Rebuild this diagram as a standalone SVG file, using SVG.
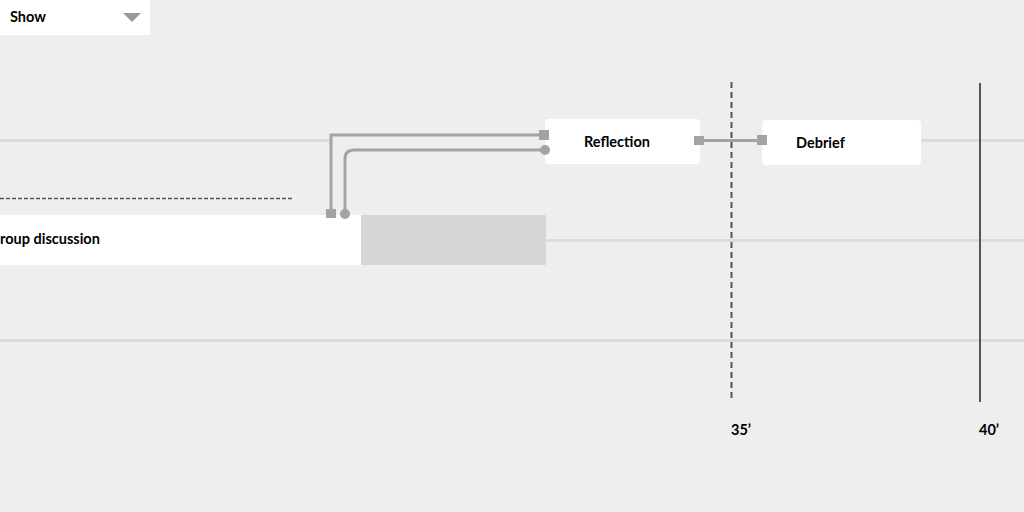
<svg xmlns="http://www.w3.org/2000/svg" width="1024" height="512" viewBox="0 0 1024 512">
<style>
.lbl{font-family:Lato,"Liberation Sans",sans-serif;font-weight:700;font-size:14.5px;fill:#000}
.row{stroke:#dcdcdc;stroke-width:3}
.con{stroke:#a3a3a3;stroke-width:3;fill:none}
.end{fill:#a3a3a3}
</style>
<rect width="1024" height="512" fill="#eeeeee"/>
<g id="rows">
<line class="row" x1="0" y1="140.5" x2="330" y2="140.5"/>
<line class="row" x1="921" y1="140.5" x2="1024" y2="140.5"/>
<line class="row" x1="546" y1="240.5" x2="1024" y2="240.5"/>
<line class="row" x1="0" y1="340.5" x2="1024" y2="340.5"/>
</g>
<g id="show">
<rect x="0" y="0" width="150" height="35" fill="#ffffff"/>
<text class="lbl" x="10" y="22">Show</text>
<polygon points="123,13 141,13 132,22" fill="#999999"/>
</g>
<line x1="0" y1="198.5" x2="292" y2="198.5" stroke="#555555" stroke-width="1.5" stroke-dasharray="4,2"/>
<g id="group-discussion">
<rect x="0" y="215" width="361" height="50" fill="#ffffff"/>
<rect x="361" y="215" width="185" height="50" fill="#d6d6d6"/>
<text class="lbl" x="0" y="244">roup discussion</text>
</g>
<g id="reflection">
<rect x="545" y="119" width="155" height="45" rx="4" fill="#ffffff"/>
<text class="lbl" x="584" y="147">Reflection</text>
</g>
<g id="debrief">
<rect x="762" y="120" width="159" height="45" rx="4" fill="#ffffff"/>
<text class="lbl" x="796" y="148">Debrief</text>
</g>
<g id="markers">
<line x1="731.5" y1="82" x2="731.5" y2="400" stroke="#555555" stroke-width="2" stroke-dasharray="6,4"/>
<line x1="980" y1="83" x2="980" y2="402" stroke="#555555" stroke-width="2"/>
<text class="lbl" x="731" y="435">35’</text>
<text class="lbl" x="979" y="435">40’</text>
</g>
<g id="connectors">
<path class="con" d="M331,213 V135 H544"/>
<rect class="end" x="326" y="209" width="10" height="9"/>
<rect class="end" x="539" y="130" width="10" height="10"/>
<path class="con" d="M345,213 V159 Q345,150 354,150 H545"/>
<circle class="end" cx="345" cy="214" r="5"/>
<circle class="end" cx="545" cy="150" r="5"/>
<path class="con" d="M699,140.5 H762"/>
<rect class="end" x="694" y="136" width="10" height="9"/>
<rect class="end" x="757" y="135" width="10" height="10"/>
</g>
</svg>
